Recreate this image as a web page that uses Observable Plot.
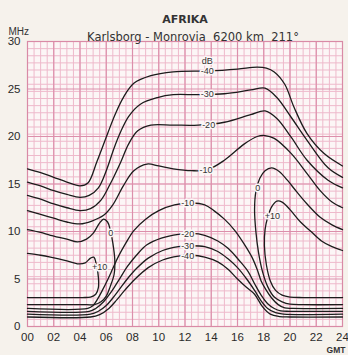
<!DOCTYPE html>
<html><head><meta charset="utf-8">
<script src="https://cdn.jsdelivr.net/npm/d3@7"></script>
<script src="https://cdn.jsdelivr.net/npm/@observablehq/plot@0.6"></script>
<style>
body{margin:0;background:#f6f2ec;}
#chart{position:relative;width:348px;height:355px;}
</style>
</head><body><div id="chart"></div>
<script>
// Tick values and labels
const hourTicks = [0,2,4,6,8,10,12,14,16,18,20,22,24];
const hourLabels = ["00","02","04","06","08","10","12","14","16","18","20","22","24"];
const mhzTicks = [0,5,10,15,20,25,30];

// Contour lines: [hour GMT, MHz]
const up40 = [[0,16.6],[1,16.2],[2,15.7],[3,15.2],[4,14.8],[4.6,15.1],[5.3,17.4],[6.1,20.3],[6.7,22.4],[7.3,24.1],[8.1,25.6],[9.4,26.4],[11.1,26.8],[13.8,26.9],[16,27.1],[17.5,27.3],[18.2,27.2],[18.8,26.8],[19.6,25.5],[20.3,23.1],[21.3,20.3],[22.6,18.2],[24,16.9]];
const up30 = [[0,15.2],[1,14.8],[2,14.3],[3,13.9],[4,13.6],[4.7,13.8],[5.4,14.6],[6,16.4],[6.6,18.8],[7.1,20.5],[7.7,22.1],[8.6,23.4],[9.9,24.1],[11.1,24.4],[13,24.4],[15,24.5],[17,24.9],[18.1,25.1],[19,24.1],[20.1,22],[21.3,19.6],[22.9,16.7],[24,15.7]];
const up20 = [[0,13.8],[1,13.4],[2,12.9],[3,12.5],[4,12.2],[4.8,12.4],[5.6,13.3],[6.3,15],[7.1,17.3],[7.7,19.2],[8.4,20.6],[9.4,21.2],[11.1,21.2],[13,21.2],[15,21.5],[17,22.3],[18.1,22.7],[19,21.9],[20.1,19.9],[21.3,17.5],[22.9,15.4],[24,14.6]];
const up10 = [[0,12.2],[1,11.8],[2,11.4],[3,11.0],[4,10.8],[4.9,11.1],[5.8,11.7],[6.5,12.8],[7.3,14.8],[8.1,16.4],[9.1,17.1],[10,16.9],[11.1,16.6],[12.5,16.4],[13.7,16.5],[15,17.5],[16.5,19.2],[17.5,20],[18.1,20.1],[18.8,19.8],[20.1,18.2],[21.3,16.1],[22.3,14.3],[23.2,13.1],[24,12.5]];
const zeroLeft = [[0,10.2],[1,9.9],[1.75,9.6],[3,9.2],[3.8,8.9],[4.5,9.2],[5.0,9.8],[5.5,10.9],[5.8,11.3],[6.1,11.0],[6.3,10.2],[6.5,8.8],[6.65,7],[6.6,5.5],[6.3,4.2],[6.0,3.2],[5.6,2.6],[5.1,2.3],[4.5,2.3],[0,2.3]];
const zeroRight = [[24,2.3],[21,2.3],[20,2.35],[19.4,2.6],[18.8,3.1],[18.3,4.2],[17.9,5.8],[17.6,7.8],[17.4,10],[17.3,12.3],[17.4,14.2],[17.7,15.6],[18.1,16.4],[18.6,16.7],[19.2,16.3],[19.8,15.4],[20.5,14.2],[21.3,12.9],[22.3,11.5],[23.2,10.7],[24,10.2]];
const plus10Left = [[0,7.7],[1,7.5],[1.75,7.3],[3,6.9],[3.8,6.6],[4.4,6.7],[4.8,7.2],[5.05,7.3],[5.25,6.5],[5.4,5.2],[5.4,4.1],[5.2,3.4],[4.8,3.1],[4.2,3.05],[0,3.05]];
const plus10Right = [[24,3.05],[21,3.05],[20,3.1],[19.4,3.3],[18.9,3.8],[18.5,4.8],[18.2,6.5],[18.05,8.5],[18.1,10.2],[18.3,11.5],[18.6,12.6],[19.0,13.2],[19.4,13.1],[20.0,12.3],[20.8,11.0],[21.6,10.0],[22.4,9.0],[23.2,8.4],[24,8.0]];
const low10 = [[0,1.9],[4.6,1.9],[5.0,2.2],[5.3,2.8],[5.7,3.8],[6.1,4.9],[6.5,6.1],[6.9,7.3],[7.5,8.8],[8.1,10.1],[9,11.3],[10,12.2],[11.2,12.8],[12.5,13],[13.5,12.8],[14.2,12.2],[15,11.3],[15.8,10.1],[16.5,8.7],[17.1,7.3],[17.5,6.0],[17.8,4.8],[18.2,3.8],[18.6,3.0],[19.1,2.3],[19.6,1.95],[20.2,1.9],[24,1.9]];
const low20 = [[0,1.6],[4.7,1.6],[5.2,1.9],[5.8,2.6],[6.2,3.3],[6.6,4.1],[7.1,5.2],[7.6,6.3],[8.3,7.5],[9.1,8.6],[10.2,9.3],[11.5,9.7],[12.5,9.8],[13.5,9.6],[14.5,9.0],[15.3,8.2],[16.1,7.0],[16.8,5.8],[17.3,4.5],[17.8,3.3],[18.3,2.4],[18.8,1.9],[19.3,1.65],[20,1.6],[24,1.6]];
const low30 = [[0,1.3],[4.8,1.3],[5.4,1.6],[6.0,2.2],[6.5,3.0],[7.0,3.9],[7.6,5.0],[8.3,6.1],[9.2,7.2],[10.3,8.0],[11.5,8.4],[12.5,8.5],[13.5,8.4],[14.5,7.9],[15.3,7.1],[16,6.2],[16.7,5.0],[17.3,3.8],[17.8,2.7],[18.3,1.9],[18.9,1.45],[19.5,1.3],[24,1.3]];
const low40 = [[0,1.0],[4.8,1.0],[5.5,1.25],[6.2,1.9],[6.8,2.8],[7.4,3.8],[8.2,5.0],[9.2,6.2],[10.3,7.0],[11.5,7.4],[12.5,7.5],[13.5,7.3],[14.5,6.8],[15.3,6.0],[16,5.0],[16.7,4.1],[17.3,3.4],[17.9,2.1],[18.5,1.3],[19.2,1.05],[20,1.0],[24,1.0]];

// Contour labels
const labelText = ["dB","-40","-30","-20","-10","-10","-20","-30","-40","0","+10","0","+10"];
const labelHour = [13.7,13.7,13.7,13.8,13.6,12.2,12.2,12.2,12.2,6.35,5.5,17.55,18.65];
const labelMHz  = [27.95,26.9,24.45,21.2,16.45,12.95,9.75,8.5,7.45,9.8,6.3,14.6,11.6];

const curves = {up40, up30, up20, up10, zeroLeft, zeroRight, plus10Left, plus10Right, low10, low20, low30, low40};
const rows = Object.entries(curves).flatMap(([id, pts]) => pts.map(([h, f]) => ({id, h, f})));
const labels = labelText.map((t, i) => ({t, h: labelHour[i], f: labelMHz[i]}));

const bg = "#fcf6f6";
const minorX = d3.range(0.5, 24, 0.5);
const majorX = d3.range(2, 24, 2);
const minorY = d3.range(0.75, 30, 0.75);
const majorY = d3.range(5, 30, 5);

const chart = Plot.plot({
  width: 348, height: 355,
  marginLeft: 27, marginRight: 6, marginTop: 41, marginBottom: 29,
  style: {background: "transparent", fontFamily: "'Liberation Sans', Arial, sans-serif", fontSize: "11.5px", color: "#2a2a2a"},
  x: {domain: [0, 24], ticks: hourTicks, tickFormat: d => hourLabels[hourTicks.indexOf(d)], tickSize: 0, tickPadding: 6, label: null},
  y: {domain: [0, 30], ticks: mhzTicks, tickSize: 0, tickPadding: 7, label: null},
  marks: [
    Plot.frame({fill: bg}),
    Plot.ruleX(minorX, {stroke: "#eeb9cb", strokeWidth: 1}),
    Plot.ruleY(minorY, {stroke: "#eeb9cb", strokeWidth: 1}),
    Plot.ruleX(majorX, {stroke: "#dc8fab", strokeWidth: 1.2}),
    Plot.ruleY(majorY, {stroke: "#dc8fab", strokeWidth: 1.2}),
    Plot.frame({stroke: "#d98aa6", strokeWidth: 1.2}),
    Plot.line(rows, {x: "h", y: "f", z: "id", curve: "catmull-rom", stroke: "#1c1c1c", strokeWidth: 1.3}),
    Plot.text(labels, {x: "h", y: "f", text: "t", fontSize: 9, fill: "#333", stroke: bg, strokeWidth: 3, paintOrder: "stroke"}),
    Plot.text(["AFRIKA"], {frameAnchor: "top", dy: -26, fontSize: 11, fontWeight: "bold", fill: "#333", fontFamily: "'DejaVu Sans', sans-serif"}),
    Plot.text(["Karlsborg - Monrovia  6200 km  211°"], {frameAnchor: "top", dx: 8, dy: -9, fontSize: 11.5, fill: "#333", fontFamily: "'DejaVu Sans', sans-serif"}),
    Plot.text(["MHz"], {frameAnchor: "top-left", dx: -19, dy: -14, fontSize: 10, fill: "#333"}),
    Plot.text(["GMT"], {frameAnchor: "bottom-right", dx: 3, dy: 26, fontSize: 8.5, fontWeight: "bold", fill: "#333"})
  ]
});
document.getElementById("chart").append(chart);
</script>
</body></html>
